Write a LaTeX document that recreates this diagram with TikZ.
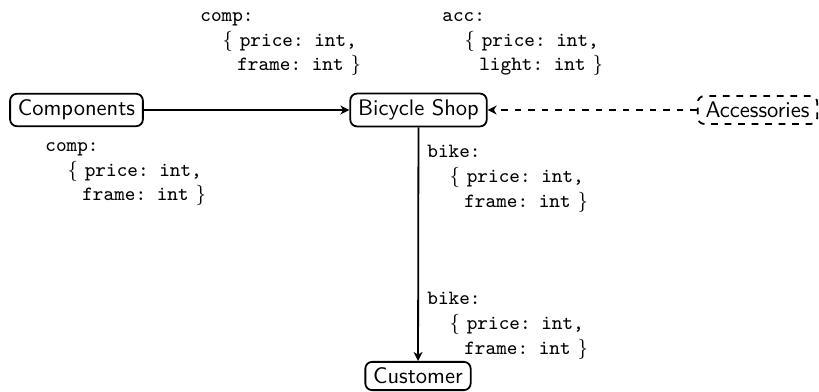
\documentclass[tikz,border=0pt]{standalone}
\usetikzlibrary{arrows.meta}
\frenchspacing
\begin{document}
\begin{tikzpicture}[x=0.4444pt,y=-0.4444pt,
  box/.style={draw,thick,rounded corners=3pt,font=\sffamily,
    inner xsep=3.5pt,inner ysep=2.7pt},
  dbox/.style={box,dashed},
  flow/.style={thick,-{Stealth[length=4pt,width=4pt,inset=1.2pt]}},
  dflow/.style={flow,dashed},
  ty/.style={align=left,anchor=north west,inner sep=0pt,font=\small\frenchspacing}]
\useasboundingbox (0,0) rectangle (819,392);

% participants
\node[box]  (comp) at (76.5,110) {Components};
\node[box]  (shop) at (418.5,110) {Bicycle Shop};
\node[dbox] (acc)  at (757.5,110) {Accessories};
\node[box]  (cust) at (418,376) {Customer};

% flows
\draw[flow]  (comp) -- (shop);
\draw[dflow] (acc) -- (shop);
\draw[flow]  (shop) -- (cust);

% record types carried along the flows
\node[ty] (tcomp) at (200,12) {\texttt{comp:}\\
  \hspace*{9.8pt}$\{$ \texttt{price: int,}\\
  \hspace*{16.4pt}\texttt{frame: int} $\}$};
\node[ty] (tacc) at (442,12) {\texttt{acc:}\\
  \hspace*{9.8pt}$\{$ \texttt{price: int,}\\
  \hspace*{16.4pt}\texttt{light: int} $\}$};
\node[ty] (tcomp2) at (45,142) {\texttt{comp:}\\
  \hspace*{9.8pt}$\{$ \texttt{price: int,}\\
  \hspace*{16.4pt}\texttt{frame: int} $\}$};
\node[ty] (tbike) at (427,145) {\texttt{bike:}\\
  \hspace*{9.8pt}$\{$ \texttt{price: int,}\\
  \hspace*{16.4pt}\texttt{frame: int} $\}$};
\node[ty] (tbike2) at (427,292) {\texttt{bike:}\\
  \hspace*{9.8pt}$\{$ \texttt{price: int,}\\
  \hspace*{16.4pt}\texttt{frame: int} $\}$};
\end{tikzpicture}
\end{document}
